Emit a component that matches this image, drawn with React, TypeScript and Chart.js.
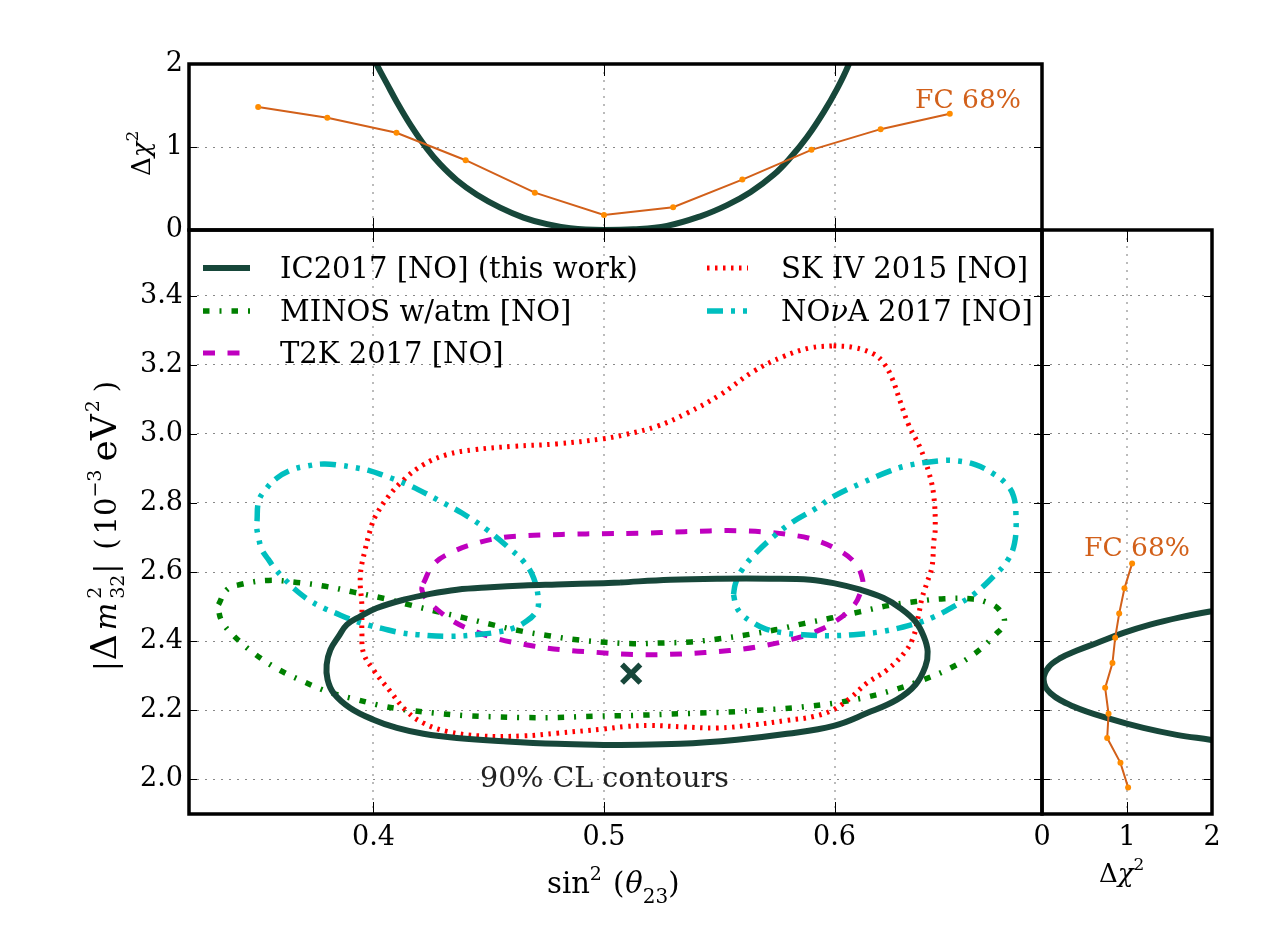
import React, { useRef, useEffect } from 'react';
import { Chart, registerables } from 'chart.js';

Chart.register(...registerables);

const W = 1270;
const H = 928;
const SERIF = '"DejaVu Serif"';

// axis ticks
const xTickValues = [0.4, 0.5, 0.6];
const yTickValues = [2.0, 2.2, 2.4, 2.6, 2.8, 3.0, 3.2, 3.4];
const chiTickValues = [0, 1, 2];

// 90% CL contours
const icX = [0.5071, 0.5288, 0.5505, 0.5722, 0.5895, 0.5996, 0.6112, 0.6213, 0.6285, 0.6351, 0.6387, 0.6404, 0.6394, 0.6351, 0.6271, 0.6141, 0.5996, 0.5794, 0.5577, 0.5331, 0.5071, 0.4998, 0.4796, 0.4579, 0.4362, 0.4217, 0.4102, 0.4, 0.3899, 0.3827, 0.3801, 0.3797, 0.3813, 0.3849, 0.3885, 0.3943, 0.4015, 0.4131, 0.4246, 0.4362, 0.4507, 0.4651, 0.4796, 0.4998];
const icY = [2.57, 2.578, 2.581, 2.581, 2.578, 2.568, 2.549, 2.525, 2.496, 2.457, 2.414, 2.37, 2.327, 2.274, 2.231, 2.192, 2.155, 2.132, 2.115, 2.103, 2.1, 2.1, 2.103, 2.11, 2.12, 2.132, 2.149, 2.173, 2.207, 2.25, 2.289, 2.332, 2.375, 2.414, 2.448, 2.472, 2.496, 2.52, 2.537, 2.549, 2.556, 2.561, 2.564, 2.568];

const skX = [0.5996, 0.6083, 0.617, 0.6213, 0.6249, 0.6285, 0.6321, 0.6372, 0.6408, 0.643, 0.6437, 0.643, 0.6423, 0.6401, 0.638, 0.6365, 0.6343, 0.6307, 0.6228, 0.6141, 0.6069, 0.5996, 0.5909, 0.5794, 0.5649, 0.549, 0.5345, 0.5201, 0.5092, 0.4998, 0.4796, 0.4651, 0.4463, 0.4319, 0.4217, 0.4145, 0.4073, 0.4, 0.3957, 0.395, 0.395, 0.3943, 0.3964, 0.3993, 0.4008, 0.4059, 0.4131, 0.4217, 0.4319, 0.4434, 0.4608, 0.4796, 0.4998, 0.5092, 0.523, 0.536, 0.5504, 0.5649, 0.5779, 0.5895];
const skY = [3.255, 3.25, 3.231, 3.205, 3.162, 3.094, 3.027, 2.959, 2.891, 2.824, 2.728, 2.684, 2.616, 2.569, 2.526, 2.477, 2.414, 2.37, 2.317, 2.279, 2.236, 2.202, 2.182, 2.171, 2.158, 2.149, 2.152, 2.156, 2.153, 2.146, 2.134, 2.126, 2.126, 2.139, 2.163, 2.197, 2.255, 2.317, 2.366, 2.424, 2.501, 2.588, 2.665, 2.737, 2.761, 2.814, 2.867, 2.911, 2.94, 2.954, 2.964, 2.971, 2.986, 2.998, 3.022, 3.06, 3.113, 3.181, 3.224, 3.249];

const minosX = [0.3328, 0.3364, 0.3422, 0.3545, 0.3668, 0.3791, 0.3914, 0.4037, 0.4152, 0.4275, 0.4398, 0.4514, 0.4637, 0.476, 0.4883, 0.5006, 0.5128, 0.5252, 0.5377, 0.55, 0.5623, 0.5743, 0.5866, 0.5985, 0.6109, 0.6232, 0.6354, 0.6476, 0.6601, 0.6662, 0.6712, 0.6737, 0.6698, 0.6608, 0.6502, 0.6387, 0.6271, 0.6151, 0.6028, 0.5905, 0.5782, 0.5659, 0.5534, 0.541, 0.5288, 0.5162, 0.4916, 0.4792, 0.4666, 0.4543, 0.442, 0.4297, 0.4174, 0.4051, 0.3928, 0.381, 0.3694, 0.3584, 0.348, 0.3386, 0.3343, 0.3328];
const minosY = [2.506, 2.549, 2.564, 2.576, 2.57, 2.559, 2.542, 2.525, 2.506, 2.486, 2.467, 2.448, 2.43, 2.416, 2.404, 2.397, 2.393, 2.395, 2.398, 2.407, 2.419, 2.433, 2.451, 2.467, 2.485, 2.503, 2.515, 2.523, 2.522, 2.512, 2.493, 2.454, 2.419, 2.364, 2.322, 2.289, 2.262, 2.24, 2.224, 2.213, 2.205, 2.2, 2.195, 2.192, 2.189, 2.186, 2.182, 2.179, 2.179, 2.181, 2.184, 2.19, 2.199, 2.211, 2.231, 2.252, 2.284, 2.32, 2.366, 2.421, 2.457, 2.491];

const t2kX = [0.4217, 0.4261, 0.4348, 0.4449, 0.455, 0.4651, 0.4767, 0.4868, 0.4977, 0.5193, 0.5295, 0.5403, 0.5512, 0.5617, 0.5721, 0.5808, 0.5895, 0.5996, 0.6083, 0.6122, 0.6112, 0.6083, 0.6003, 0.5909, 0.5808, 0.57, 0.5599, 0.549, 0.5386, 0.528, 0.5172, 0.5071, 0.4962, 0.4854, 0.4753, 0.4644, 0.4543, 0.4442, 0.4348, 0.4268, 0.4232, 0.421];
const t2kY = [2.568, 2.623, 2.66, 2.684, 2.699, 2.705, 2.708, 2.71, 2.711, 2.713, 2.716, 2.718, 2.72, 2.719, 2.715, 2.708, 2.697, 2.671, 2.631, 2.578, 2.54, 2.503, 2.457, 2.425, 2.404, 2.388, 2.377, 2.37, 2.365, 2.362, 2.361, 2.363, 2.368, 2.373, 2.38, 2.392, 2.406, 2.428, 2.457, 2.496, 2.52, 2.549];

const novaLeftX = [0.3495, 0.3502, 0.3531, 0.3581, 0.3646, 0.3704, 0.3784, 0.3856, 0.3914, 0.3986, 0.4044, 0.4116, 0.4196, 0.4304, 0.4384, 0.4492, 0.4593, 0.4651, 0.4695, 0.4716, 0.4702, 0.4666, 0.4608, 0.4543, 0.4463, 0.4333, 0.4189, 0.4116, 0.4037, 0.3986, 0.3899, 0.3834, 0.3784, 0.3718, 0.3653, 0.3617, 0.3574, 0.3545, 0.3516, 0.3502, 0.3492];
const novaLeftY = [2.747, 2.805, 2.838, 2.872, 2.896, 2.906, 2.913, 2.909, 2.903, 2.893, 2.88, 2.862, 2.838, 2.8, 2.771, 2.723, 2.667, 2.631, 2.583, 2.511, 2.482, 2.459, 2.438, 2.427, 2.42, 2.414, 2.419, 2.425, 2.437, 2.445, 2.464, 2.482, 2.496, 2.52, 2.554, 2.578, 2.609, 2.636, 2.665, 2.699, 2.737];

const novaRightX = [0.5562, 0.557, 0.5599, 0.5656, 0.5736, 0.5816, 0.5924, 0.5996, 0.6119, 0.6242, 0.6321, 0.6452, 0.6531, 0.6611, 0.6683, 0.6748, 0.6777, 0.6787, 0.6781, 0.6748, 0.669, 0.6603, 0.6524, 0.643, 0.6336, 0.6206, 0.6083, 0.5982, 0.5859, 0.5779, 0.57, 0.5649, 0.5599, 0.5574];
const novaRightY = [2.535, 2.566, 2.607, 2.653, 2.703, 2.744, 2.786, 2.819, 2.858, 2.893, 2.909, 2.922, 2.922, 2.911, 2.887, 2.853, 2.819, 2.766, 2.684, 2.631, 2.588, 2.535, 2.503, 2.47, 2.448, 2.428, 2.419, 2.416, 2.419, 2.424, 2.436, 2.453, 2.477, 2.501];

const bestFitX = [0.5118];
const bestFitY = [2.306];

// top panel: chi2 against sin2(theta23)
const topIcX = [0.398, 0.4015, 0.4059, 0.4102, 0.416, 0.4232, 0.429, 0.4362, 0.4449, 0.455, 0.4651, 0.4753, 0.4854, 0.4998, 0.5128, 0.5273, 0.5418, 0.5534, 0.5635, 0.5736, 0.5808, 0.5881, 0.5953, 0.6011, 0.6061, 0.6085];
const topIcY = [2.2, 1.99, 1.76, 1.54, 1.27, 0.98, 0.79, 0.6, 0.425, 0.27, 0.15, 0.07, 0.022, 0, 0.008, 0.05, 0.165, 0.3, 0.455, 0.665, 0.87, 1.12, 1.42, 1.7, 1.99, 2.2];
const topFcX = [0.35, 0.38, 0.41, 0.44, 0.47, 0.5, 0.53, 0.56, 0.59, 0.62, 0.65];
const topFcY = [1.481, 1.352, 1.171, 0.841, 0.45, 0.181, 0.274, 0.607, 0.966, 1.215, 1.4];

// right panel: chi2 against dm2
const rightIcX = [2.1, 1.977, 1.624, 1.272, 0.958, 0.646, 0.411, 0.215, 0.078, 0.019, 0.097, 0.371, 0.802, 1.193, 1.585, 1.977, 2.1];
const rightIcY = [2.49, 2.486, 2.469, 2.448, 2.424, 2.395, 2.373, 2.351, 2.325, 2.289, 2.25, 2.211, 2.175, 2.149, 2.129, 2.115, 2.11];
const rightFcX = [1.06, 0.97, 0.908, 0.861, 0.829, 0.743, 0.783, 0.767, 0.923, 1.013];
const rightFcY = [2.625, 2.553, 2.48, 2.41, 2.337, 2.265, 2.19, 2.12, 2.048, 1.977];

const IC = '#17473a';
const GREEN = '#008000';
const MAGENTA = '#bf00bf';
const RED = '#ff0000';
const CYAN = '#00bfbf';
const FC_LINE = '#d2601a';
const FC_DOT = '#ff8c00';

const DASH_MINOS = [6.5, 10, 2, 10];
const DASH_T2K = [12, 12.5];
const DASH_SK = [2.5, 5.5];
const DASH_NOVA = [16, 8, 4, 8, 4, 8];

const pts = (xs: number[], ys: number[]) => xs.map((x, i) => ({ x, y: ys[i] }));
const loop = (xs: number[], ys: number[]) => [...pts(xs, ys), { x: xs[0], y: ys[0] }];

const curve = (data: any, color: string, width: number, dash: number[] = []) => ({
  data,
  showLine: true,
  borderColor: color,
  borderWidth: width,
  borderDash: dash,
  borderCapStyle: 'butt',
  borderJoinStyle: 'round',
  tension: 0.4,
  pointRadius: 0,
  clip: 0,
});

const fcCurve = (data: any) => ({
  data,
  showLine: true,
  borderColor: FC_LINE,
  borderWidth: 2,
  tension: 0,
  pointRadius: 3,
  pointBorderWidth: 0,
  pointBackgroundColor: FC_DOT,
  clip: 0,
});

type Run = { t: string; size: number; italic?: boolean; dy?: number; stay?: boolean; gap?: number };

// draws a piece of math text run by run, optionally rotated
const drawRuns = (ctx: CanvasRenderingContext2D, runs: Run[], x: number, y: number, rotate = false, color = '#000') => {
  ctx.save();
  ctx.translate(x, y);
  if (rotate) ctx.rotate(-Math.PI / 2);
  ctx.fillStyle = color;
  ctx.textBaseline = 'alphabetic';
  ctx.textAlign = 'left';
  let cx = 0;
  runs.forEach((r) => {
    ctx.font = `${r.italic ? 'italic ' : ''}${r.size}px ${SERIF}`;
    cx += r.gap || 0;
    ctx.fillText(r.t, cx, r.dy || 0);
    if (!r.stay) cx += ctx.measureText(r.t).width;
  });
  ctx.restore();
};

const frame = {
  id: 'frame',
  afterDraw(chart: any) {
    const { ctx, chartArea: a, scales } = chart;
    ctx.save();
    ctx.strokeStyle = '#000';
    ctx.lineWidth = 1;
    ctx.beginPath();
    scales.x.ticks.forEach((t: any) => {
      const p = Math.round(scales.x.getPixelForValue(t.value)) + 0.5;
      ctx.moveTo(p, a.top);
      ctx.lineTo(p, a.top + 12);
      ctx.moveTo(p, a.bottom - 12);
      ctx.lineTo(p, a.bottom);
    });
    scales.y.ticks.forEach((t: any) => {
      const p = Math.round(scales.y.getPixelForValue(t.value)) + 0.5;
      ctx.moveTo(a.left, p);
      ctx.lineTo(a.left + 8, p);
      ctx.moveTo(a.right - 8, p);
      ctx.lineTo(a.right, p);
    });
    ctx.stroke();
    ctx.lineWidth = 3.5;
    ctx.strokeRect(a.left, a.top, a.right - a.left, a.bottom - a.top);
    ctx.restore();
  },
};

const legendRows = [
  { label: 'IC2017 [NO] (this work)', color: IC, width: 6, dash: [] as number[], col: 0, y: 268 },
  { label: 'MINOS w/atm [NO]', color: GREEN, width: 5.5, dash: DASH_MINOS, col: 0, y: 311 },
  { label: 'T2K 2017 [NO]', color: MAGENTA, width: 5, dash: DASH_T2K, col: 0, y: 353 },
  { label: 'SK IV 2015 [NO]', color: RED, width: 5, dash: DASH_SK, col: 1, y: 268 },
  { label: 'NOνA 2017 [NO]', color: CYAN, width: 5.5, dash: DASH_NOVA, col: 1, y: 311 },
];
const legendCols = [
  { x0: 203, x1: 250, text: 280 },
  { x0: 707, x1: 748, text: 781 },
];

const mainNotes = {
  id: 'mainNotes',
  afterDraw(chart: any) {
    const { ctx } = chart;
    ctx.save();
    legendRows.forEach((r) => {
      const col = legendCols[r.col];
      ctx.strokeStyle = r.color;
      ctx.lineWidth = r.width;
      ctx.setLineDash(r.dash);
      ctx.beginPath();
      ctx.moveTo(col.x0, r.y);
      ctx.lineTo(col.x1, r.y);
      ctx.stroke();
      ctx.setLineDash([]);
      if (r.label.includes('ν')) {
        drawRuns(ctx, [{ t: 'NO', size: 29 }, { t: 'ν', size: 29, italic: true }, { t: 'A 2017 [NO]', size: 29 }], col.text, r.y + 10);
      } else {
        drawRuns(ctx, [{ t: r.label, size: 29 }], col.text, r.y + 10);
      }
    });
    ctx.restore();
    drawRuns(ctx, [{ t: '90% CL contours', size: 28.5 }], 480, 787, false, '#222');
    drawRuns(ctx, [
      { t: 'sin', size: 29 },
      { t: '2', size: 19, dy: -13 },
      { t: '(', size: 29, gap: 11 },
      { t: 'θ', size: 29, italic: true, gap: 1 },
      { t: '23', size: 20, dy: 10 },
      { t: ')', size: 29 },
    ], 547, 893);
    drawRuns(ctx, [
      { t: '|', size: 29 },
      { t: 'Δ', size: 36, gap: 1 },
      { t: 'm', size: 29, italic: true, gap: 4 },
      { t: '2', size: 19, dy: -15, stay: true, gap: 4 },
      { t: '32', size: 19, dy: 8 },
      { t: '|', size: 29, gap: 1 },
      { t: '(', size: 29, gap: 14 },
      { t: '10', size: 29, gap: 4 },
      { t: '−3', size: 19, dy: -15 },
      { t: 'eV', size: 36, gap: 8 },
      { t: '2', size: 19, dy: -17, gap: 2 },
      { t: ')', size: 29, gap: 8 },
    ], 116, 671, true);
  },
};

const topNotes = {
  id: 'topNotes',
  afterDraw(chart: any) {
    drawRuns(chart.ctx, [{ t: 'FC 68%', size: 26.5 }], 915, 108, false, FC_LINE);
    drawRuns(chart.ctx, [
      { t: 'Δ', size: 26 },
      { t: 'χ', size: 26, italic: true },
      { t: '2', size: 17, dy: -12 },
    ], 150, 176, true);
  },
};

const rightNotes = {
  id: 'rightNotes',
  afterDraw(chart: any) {
    drawRuns(chart.ctx, [{ t: 'FC 68%', size: 26.5 }], 1084, 556, false, FC_LINE);
    drawRuns(chart.ctx, [
      { t: 'Δ', size: 26 },
      { t: 'χ', size: 26, italic: true },
      { t: '2', size: 17, dy: -12 },
    ], 1099, 882);
  },
};

const axis = (values: number[], min: number, max: number, labels: boolean, digits: number, isY: boolean) => ({
  type: 'linear',
  min,
  max,
  afterBuildTicks: (scale: any) => {
    scale.ticks = values.map((value) => ({ value }));
  },
  afterFit: (scale: any) => {
    if (isY) scale.width = 60;
    else scale.height = 60;
  },
  border: { display: false, dash: [2, 6] },
  grid: {
    color: isY ? '#888888' : '#bbbbbb',
    lineWidth: isY ? 1 : 2,
    drawTicks: false,
  },
  ticks: {
    display: labels,
    autoSkip: false,
    maxRotation: 0,
    padding: isY ? 6 : 8,
    color: '#000',
    font: { family: SERIF, size: 27 },
    callback: (v: number) => v.toFixed(digits),
  },
});

const options = (box: { l: number; t: number; r: number; b: number }, x: any, y: any) => ({
  responsive: false,
  animation: false,
  events: [],
  layout: {
    padding: { left: box.l - 60, top: box.t, right: W - box.r, bottom: H - box.b - 60 },
  },
  plugins: { legend: { display: false }, tooltip: { enabled: false } },
  scales: { x, y },
});

const layerStyle: React.CSSProperties = { position: 'absolute', left: 0, top: 0, display: 'block' };

export default function App() {
  const mainRef = useRef<HTMLCanvasElement>(null);
  const topRef = useRef<HTMLCanvasElement>(null);
  const rightRef = useRef<HTMLCanvasElement>(null);

  useEffect(() => {
    if (!mainRef.current || !topRef.current || !rightRef.current) return;

    const main = new Chart(mainRef.current, {
      type: 'scatter',
      data: {
        datasets: [
          {
            data: pts(bestFitX, bestFitY),
            pointStyle: 'crossRot',
            pointRadius: 13,
            pointBorderWidth: 5.5,
            pointBorderColor: IC,
          },
          curve(loop(icX, icY), IC, 6),
          curve(loop(novaLeftX, novaLeftY), CYAN, 5.5, DASH_NOVA),
          curve(loop(novaRightX, novaRightY), CYAN, 5.5, DASH_NOVA),
          curve(loop(skX, skY), RED, 5, DASH_SK),
          curve(loop(t2kX, t2kY), MAGENTA, 5, DASH_T2K),
          curve(loop(minosX, minosY), GREEN, 5.5, DASH_MINOS),
        ] as any,
      },
      options: options(
        { l: 189, t: 230, r: 1042, b: 814 },
        axis(xTickValues, 0.32, 0.69, true, 1, false),
        axis(yTickValues, 1.9, 3.59, true, 1, true),
      ) as any,
      plugins: [frame, mainNotes],
    });

    const top = new Chart(topRef.current, {
      type: 'scatter',
      data: {
        datasets: [
          fcCurve(pts(topFcX, topFcY)),
          curve(pts(topIcX, topIcY), IC, 6),
        ] as any,
      },
      options: options(
        { l: 189, t: 64, r: 1042, b: 230 },
        axis(xTickValues, 0.32, 0.69, false, 1, false),
        axis(chiTickValues, 0, 2, true, 0, true),
      ) as any,
      plugins: [frame, topNotes],
    });

    const right = new Chart(rightRef.current, {
      type: 'scatter',
      data: {
        datasets: [
          fcCurve(pts(rightFcX, rightFcY)),
          curve(pts(rightIcX, rightIcY), IC, 6),
        ] as any,
      },
      options: options(
        { l: 1042, t: 230, r: 1212, b: 814 },
        axis(chiTickValues, 0, 2, true, 0, false),
        axis(yTickValues, 1.9, 3.59, false, 1, true),
      ) as any,
      plugins: [frame, rightNotes],
    });

    return () => {
      main.destroy();
      top.destroy();
      right.destroy();
    };
  }, []);

  return (
    <div style={{ position: 'absolute', left: 0, top: 0, width: W, height: H, background: '#fff' }}>
      <canvas ref={mainRef} width={W} height={H} style={layerStyle} />
      <canvas ref={topRef} width={W} height={H} style={layerStyle} />
      <canvas ref={rightRef} width={W} height={H} style={layerStyle} />
    </div>
  );
}
